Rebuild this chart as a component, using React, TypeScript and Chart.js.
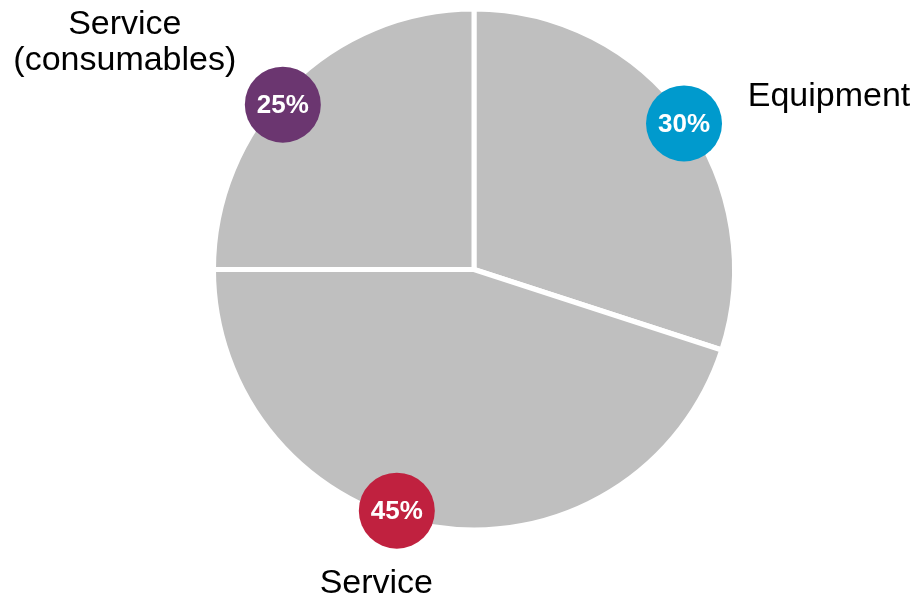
import React, { useEffect, useRef } from "react";
import { Chart, registerables } from "chart.js";

Chart.register(...registerables);

const categories = ["Equipment", "Service", "Service\n(consumables)"];
const shares = [30, 45, 25];
const badgeLabels = ["30%", "45%", "25%"];
const badgeColors = ["#009acd", "#c0213f", "#6b3670"];

// placement styling per slice (not data)
const badgeAngleFrac = [0.511, 0.554, 0.453];
const badgeDist = [0.982, 0.972, 0.969];
const labelOffsets = [
  { dx: 145, dy: -17 },
  { dx: -20.5, dy: 82.5 },
  { dx: -158, dy: -70.5 },
];

const badgePlugin = {
  id: "badges",
  afterDatasetsDraw(chart: any) {
    const ctx = chart.ctx;
    const meta = chart.getDatasetMeta(0);
    meta.data.forEach((arc: any, i: number) => {
      const p = arc.getProps(["x", "y", "startAngle", "endAngle", "outerRadius"], true);
      const ang = p.startAngle + badgeAngleFrac[i] * (p.endAngle - p.startAngle);
      const d = badgeDist[i] * p.outerRadius;
      const bx = p.x + Math.cos(ang) * d;
      const by = p.y + Math.sin(ang) * d;
      ctx.save();
      ctx.beginPath();
      ctx.arc(bx, by, 38, 0, Math.PI * 2);
      ctx.fillStyle = badgeColors[i];
      ctx.fill();
      ctx.fillStyle = "#ffffff";
      ctx.font = "bold 26px 'Liberation Sans', Arial, sans-serif";
      ctx.textAlign = "center";
      ctx.textBaseline = "middle";
      ctx.fillText(badgeLabels[i], bx, by + 1);
      ctx.fillStyle = "#000000";
      ctx.font = "34px 'Liberation Sans', Arial, sans-serif";
      ctx.textBaseline = "alphabetic";
      const lines = categories[i].split("\n");
      lines.forEach((ln, k) => {
        ctx.fillText(ln, bx + labelOffsets[i].dx, by + labelOffsets[i].dy + k * 36);
      });
      ctx.restore();
    });
  },
};

export default function App() {
  const ref = useRef<HTMLCanvasElement>(null);
  useEffect(() => {
    if (!ref.current) return;
    const chart = new Chart(ref.current, {
      type: "pie",
      data: {
        labels: categories,
        datasets: [
          {
            data: shares,
            backgroundColor: "#bfbfbf",
            borderColor: "#ffffff",
            borderWidth: 5,
          },
        ],
      },
      options: {
        animation: false,
        responsive: true,
        maintainAspectRatio: false,
        layout: { padding: { top: 6.5, bottom: 65.5, left: 211, right: 184 } },
        plugins: {
          legend: { display: false },
          tooltip: { enabled: false },
        },
      },
      plugins: [badgePlugin],
    });
    return () => chart.destroy();
  }, []);
  return (
    <div style={{ position: "fixed", left: 0, top: 0, width: 921, height: 598, background: "#fff" }}>
      <canvas ref={ref} />
    </div>
  );
}
